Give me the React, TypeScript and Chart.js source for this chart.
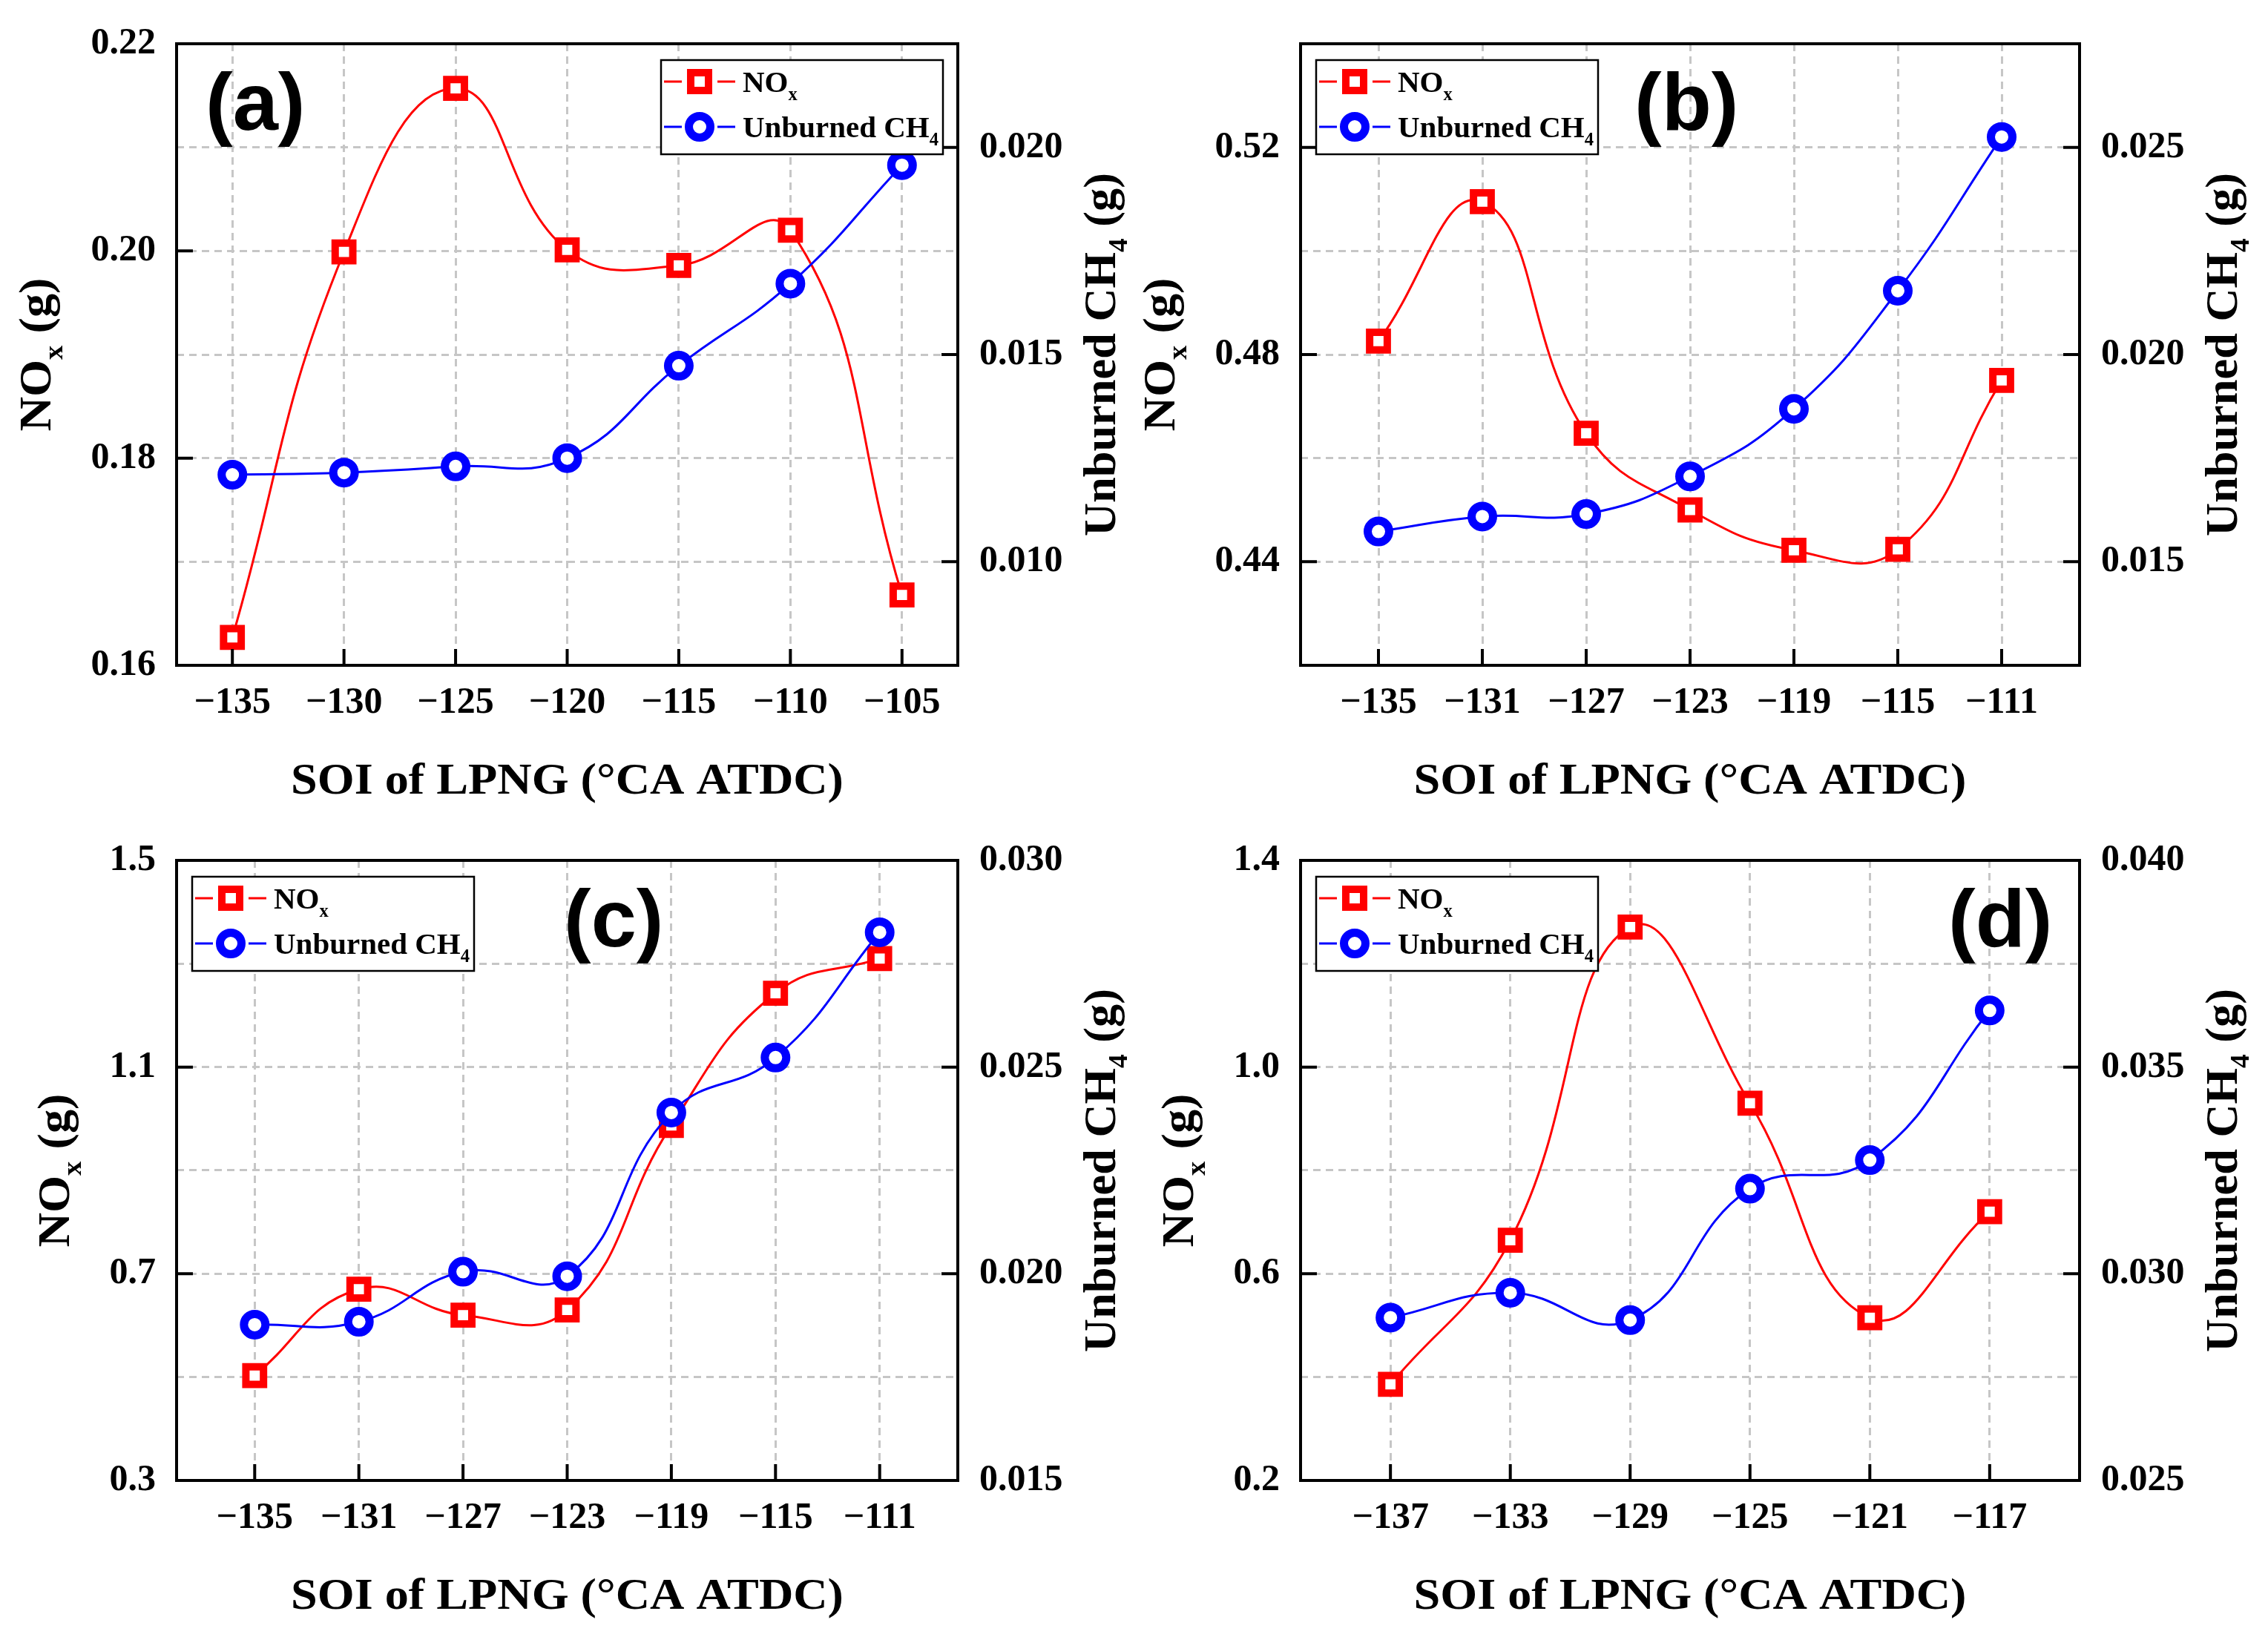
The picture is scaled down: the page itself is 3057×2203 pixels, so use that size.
import React, { useEffect, useRef } from 'react'
import { Chart, registerables } from 'chart.js'

Chart.register(...registerables)

const SERIF = '"Liberation Serif", "Times New Roman", serif'
const SANS = '"Liberation Sans", Arial, sans-serif'

// (a)
const soiA = [-135, -130, -125, -120, -115, -110, -105]
const noxA = [0.1627, 0.1999, 0.2157, 0.2001, 0.1986, 0.202, 0.1668]
const ch4A = [0.0121, 0.01215, 0.0123, 0.0125, 0.01473, 0.01671, 0.01957]
const noxGridA = [0.16, 0.17, 0.18, 0.19, 0.2, 0.21, 0.22]
const noxTicksA = [0.16, 0.18, 0.2, 0.22]
const ch4TicksA = [0.01, 0.015, 0.02]

// (b)
const soiB = [-135, -131, -127, -123, -119, -115, -111]
const noxB = [0.4826, 0.5095, 0.4648, 0.45, 0.4422, 0.4424, 0.475]
const ch4B = [0.01573, 0.01609, 0.01615, 0.01706, 0.01869, 0.02154, 0.02525]
const noxGridB = [0.42, 0.44, 0.46, 0.48, 0.5, 0.52, 0.54]
const noxTicksB = [0.44, 0.48, 0.52]
const ch4TicksB = [0.015, 0.02, 0.025]

// (c)
const soiC = [-135, -131, -127, -123, -119, -115, -111]
const noxC = [0.503, 0.67, 0.62, 0.63, 0.987, 1.243, 1.31]
const ch4C = [0.01877, 0.01884, 0.02005, 0.01994, 0.0239, 0.02523, 0.02826]
const noxGridC = [0.3, 0.5, 0.7, 0.9, 1.1, 1.3, 1.5]
const noxTicksC = [0.3, 0.7, 1.1, 1.5]
const ch4TicksC = [0.015, 0.02, 0.025, 0.03]

// (d)
const soiD = [-137, -133, -129, -125, -121, -117]
const noxD = [0.386, 0.665, 1.271, 0.93, 0.515, 0.72]
const ch4D = [0.02894, 0.02954, 0.02888, 0.03206, 0.03275, 0.03637]
const noxGridD = [0.2, 0.4, 0.6, 0.8, 1.0, 1.2, 1.4]
const noxTicksD = [0.2, 0.6, 1.0, 1.4]
const ch4TicksD = [0.025, 0.03, 0.035, 0.04]

type Part = { t: string; sub?: boolean }

// draws text runs with lowered, smaller subscripts; baseline at y.
// fit > 0 stretches the run along its direction to that length
function drawParts(
  ctx: CanvasRenderingContext2D,
  parts: Part[],
  x: number,
  y: number,
  size: number,
  center: boolean,
  fit = 0
) {
  const subSize = size * 0.6
  const widths = parts.map((p) => {
    ctx.font = `bold ${p.sub ? subSize : size}px ${SERIF}`
    return ctx.measureText(p.t).width
  })
  const total = widths.reduce((a, b) => a + b, 0)
  const sx = fit > 0 ? fit / total : 1
  ctx.save()
  ctx.translate(x, y)
  ctx.scale(sx, 1)
  let cx = center ? -total / 2 : 0
  ctx.textAlign = 'left'
  ctx.textBaseline = 'alphabetic'
  parts.forEach((p, i) => {
    ctx.font = `bold ${p.sub ? subSize : size}px ${SERIF}`
    ctx.fillText(p.t, cx, p.sub ? size * 0.27 : 0)
    cx += widths[i]
  })
  ctx.restore()
}

function drawSquare(ctx: CanvasRenderingContext2D, x: number, y: number) {
  ctx.fillStyle = '#fff'
  ctx.strokeStyle = '#ff0000'
  ctx.lineWidth = 10
  ctx.fillRect(x - 12, y - 12, 24, 24)
  ctx.strokeRect(x - 12, y - 12, 24, 24)
}

function drawCircle(ctx: CanvasRenderingContext2D, x: number, y: number) {
  ctx.fillStyle = '#fff'
  ctx.strokeStyle = '#0000ff'
  ctx.lineWidth = 11
  ctx.beginPath()
  ctx.arc(x, y, 14.5, 0, Math.PI * 2)
  ctx.fill()
  ctx.stroke()
}

interface Box { x: number; y: number; w: number; h: number }
interface Area { l: number; t: number; r: number; b: number }

interface PanelProps {
  letter: string
  letterX: number
  legendRight: boolean
  soi: number[]
  nox: number[]
  ch4: number[]
  xMin: number
  xMax: number
  noxGrid: number[]
  noxTicks: number[]
  noxDigits: number
  ch4Min: number
  ch4Max: number
  ch4Ticks: number[]
  box: Box
  area: Area
}

const TICK_FONT = { family: SERIF, size: 50, weight: 'bold' as const }
const GRID = { color: '#c6c6c6', lineWidth: 3, drawTicks: false }
const DASH = [10, 7]
const LEFT_W = 150
const RIGHT_W = 150
const BOTTOM_H = 110

const Panel = (p: PanelProps) => {
  const ref = useRef<HTMLCanvasElement | null>(null)

  useEffect(() => {
    if (!ref.current) return
    const isLabel = (v: number) => p.noxTicks.some((t) => Math.abs(t - v) < 1e-9)

    const decor = {
      id: 'decor',
      afterDraw(chart: Chart) {
        const ctx = chart.ctx
        const { left, right, top, bottom } = chart.chartArea
        const xs = chart.scales.x
        const yl = chart.scales.y
        const yr = chart.scales.y2
        ctx.save()

        // inward tick marks
        ctx.strokeStyle = '#000'
        ctx.lineWidth = 4
        ctx.beginPath()
        p.soi.forEach((v) => {
          const px = xs.getPixelForValue(v)
          ctx.moveTo(px, bottom)
          ctx.lineTo(px, bottom - 22)
        })
        p.noxTicks.forEach((v) => {
          const py = yl.getPixelForValue(v)
          ctx.moveTo(left, py)
          ctx.lineTo(left + 22, py)
        })
        p.ch4Ticks.forEach((v) => {
          const py = yr.getPixelForValue(v)
          ctx.moveTo(right, py)
          ctx.lineTo(right - 22, py)
        })
        ctx.stroke()

        // frame
        ctx.strokeRect(left, top, right - left, bottom - top)

        // axis titles
        ctx.fillStyle = '#000'
        ctx.font = `bold ${TICK_FONT.size}px ${SERIF}`
        const lw = Math.max(...p.noxTicks.map((v) => ctx.measureText(v.toFixed(p.noxDigits)).width))
        const rw = Math.max(...p.ch4Ticks.map((v) => ctx.measureText(v.toFixed(3)).width))
        const midY = (top + bottom) / 2

        ctx.save()
        ctx.translate(left - 28 - lw - 55, midY)
        ctx.rotate(-Math.PI / 2)
        drawParts(ctx, [{ t: 'NO' }, { t: 'x', sub: true }, { t: ' (g)' }], 0, 0, 61, true, 207)
        ctx.restore()

        ctx.save()
        ctx.translate(right + 29 + rw + 70, midY)
        ctx.rotate(-Math.PI / 2)
        drawParts(ctx, [{ t: 'Unburned CH' }, { t: '4', sub: true }, { t: ' (g)' }], 0, 0, 61, true, 490)
        ctx.restore()

        drawParts(ctx, [{ t: 'SOI of LPNG (\u00b0CA ATDC)' }], (left + right) / 2, bottom + 173, 60, true, 745)

        // panel letter
        ctx.font = `bold 110px ${SANS}`
        ctx.textAlign = 'left'
        ctx.textBaseline = 'alphabetic'
        ctx.fillStyle = '#000'
        ctx.fillText(p.letter, left + p.letterX - 6, top + 116)

        // legend
        const bw = 380
        const bh = 127
        const bx = p.legendRight ? right - 20 - bw : left + 21
        const by = top + 22
        ctx.fillStyle = '#fff'
        ctx.fillRect(bx, by, bw, bh)
        ctx.strokeStyle = '#000'
        ctx.lineWidth = 2.5
        ctx.strokeRect(bx, by, bw, bh)

        const rows = [
          { y: by + 29, color: '#ff0000', parts: [{ t: 'NO' }, { t: 'x', sub: true }] as Part[], sq: true },
          { y: by + 90, color: '#0000ff', parts: [{ t: 'Unburned CH' }, { t: '4', sub: true }] as Part[], sq: false },
        ]
        rows.forEach((row) => {
          ctx.strokeStyle = row.color
          ctx.lineWidth = 3
          ctx.beginPath()
          ctx.moveTo(bx + 4, row.y)
          ctx.lineTo(bx + 28, row.y)
          ctx.moveTo(bx + 76, row.y)
          ctx.lineTo(bx + 100, row.y)
          ctx.stroke()
          if (row.sq) drawSquare(ctx, bx + 52, row.y)
          else drawCircle(ctx, bx + 52, row.y)
          ctx.fillStyle = '#000'
          drawParts(ctx, row.parts, bx + 110, row.y + 14, 41, false)
        })

        ctx.restore()
      },
    }

    const { box, area } = p
    const chart = new Chart(ref.current, {
      type: 'line',
      data: {
        datasets: [
          {
            label: 'NOx',
            data: p.soi.map((x, i) => ({ x, y: p.nox[i] })),
            yAxisID: 'y',
            borderColor: '#ff0000',
            borderWidth: 3,
            tension: 0.45,
            pointStyle: 'rect',
            pointRadius: 16.8,
            pointBorderWidth: 10,
            pointBorderColor: '#ff0000',
            pointBackgroundColor: '#ffffff',
            order: 1,
          },
          {
            label: 'Unburned CH4',
            data: p.soi.map((x, i) => ({ x, y: p.ch4[i] })),
            yAxisID: 'y2',
            borderColor: '#0000ff',
            borderWidth: 3,
            tension: 0.45,
            pointStyle: 'circle',
            pointRadius: 14.5,
            pointBorderWidth: 11,
            pointBorderColor: '#0000ff',
            pointBackgroundColor: '#ffffff',
            order: 0,
          },
        ],
      },
      options: {
        animation: false,
        responsive: false,
        devicePixelRatio: 1,
        events: [],
        layout: {
          padding: {
            left: area.l - box.x - LEFT_W,
            right: box.x + box.w - area.r - RIGHT_W,
            top: area.t - box.y,
            bottom: box.y + box.h - area.b - BOTTOM_H,
          },
        },
        plugins: { legend: { display: false }, tooltip: { enabled: false } },
        scales: {
          x: {
            type: 'linear',
            position: 'bottom',
            min: p.xMin,
            max: p.xMax,
            afterBuildTicks: (s: any) => {
              s.ticks = p.soi.map((v) => ({ value: v }))
            },
            afterFit: (s: any) => {
              s.height = BOTTOM_H
            },
            ticks: {
              color: '#000',
              font: TICK_FONT,
              padding: 21,
              maxRotation: 0,
              autoSkip: false,
              callback: (v: any) => '\u2212' + Math.abs(Number(v)),
            },
            grid: GRID,
            border: { display: false, dash: DASH },
          },
          y: {
            type: 'linear',
            position: 'left',
            min: p.noxGrid[0],
            max: p.noxGrid[p.noxGrid.length - 1],
            afterBuildTicks: (s: any) => {
              s.ticks = p.noxGrid.map((v) => ({ value: v }))
            },
            afterFit: (s: any) => {
              s.width = LEFT_W
            },
            ticks: {
              color: '#000',
              font: TICK_FONT,
              padding: 28,
              autoSkip: false,
              callback: (v: any) => (isLabel(Number(v)) ? Number(v).toFixed(p.noxDigits) : ''),
            },
            grid: GRID,
            border: { display: false, dash: DASH },
          },
          y2: {
            type: 'linear',
            position: 'right',
            min: p.ch4Min,
            max: p.ch4Max,
            afterBuildTicks: (s: any) => {
              s.ticks = p.ch4Ticks.map((v) => ({ value: v }))
            },
            afterFit: (s: any) => {
              s.width = RIGHT_W
            },
            ticks: {
              color: '#000',
              font: TICK_FONT,
              padding: 29,
              autoSkip: false,
              callback: (v: any) => Number(v).toFixed(3),
            },
            grid: { display: false, drawTicks: false },
            border: { display: false },
          },
        },
      },
      plugins: [decor],
    })
    return () => {
      chart.destroy()
    }
  }, [])

  return (
    <canvas
      ref={ref}
      width={p.box.w}
      height={p.box.h}
      style={{ position: 'absolute', left: p.box.x, top: p.box.y }}
    />
  )
}

const App = () => {
  return (
    <div style={{ position: 'absolute', left: 0, top: 0, width: 3057, height: 2203, background: '#fff' }}>
      <Panel
        letter="(a)"
        letterX={45}
        legendRight={true}
        soi={soiA}
        nox={noxA}
        ch4={ch4A}
        xMin={-137.5}
        xMax={-102.5}
        noxGrid={noxGridA}
        noxTicks={noxTicksA}
        noxDigits={2}
        ch4Min={0.0075}
        ch4Max={0.0225}
        ch4Ticks={ch4TicksA}
        box={{ x: 0, y: 0, w: 1528, h: 1101 }}
        area={{ l: 238, t: 56, r: 1291, b: 897 }}
      />
      <Panel
        letter="(b)"
        letterX={456}
        legendRight={false}
        soi={soiB}
        nox={noxB}
        ch4={ch4B}
        xMin={-138}
        xMax={-108}
        noxGrid={noxGridB}
        noxTicks={noxTicksB}
        noxDigits={2}
        ch4Min={0.0125}
        ch4Max={0.0275}
        ch4Ticks={ch4TicksB}
        box={{ x: 1528, y: 0, w: 1529, h: 1101 }}
        area={{ l: 1753, t: 56, r: 2803, b: 897 }}
      />
      <Panel
        letter="(c)"
        letterX={528}
        legendRight={false}
        soi={soiC}
        nox={noxC}
        ch4={ch4C}
        xMin={-138}
        xMax={-108}
        noxGrid={noxGridC}
        noxTicks={noxTicksC}
        noxDigits={1}
        ch4Min={0.015}
        ch4Max={0.03}
        ch4Ticks={ch4TicksC}
        box={{ x: 0, y: 1101, w: 1528, h: 1102 }}
        area={{ l: 238, t: 1154, r: 1291, b: 1996 }}
      />
      <Panel
        letter="(d)"
        letterX={879}
        legendRight={false}
        soi={soiD}
        nox={noxD}
        ch4={ch4D}
        xMin={-140}
        xMax={-114}
        noxGrid={noxGridD}
        noxTicks={noxTicksD}
        noxDigits={1}
        ch4Min={0.025}
        ch4Max={0.04}
        ch4Ticks={ch4TicksD}
        box={{ x: 1528, y: 1101, w: 1529, h: 1102 }}
        area={{ l: 1753, t: 1154, r: 2803, b: 1996 }}
      />
    </div>
  )
}

export default App
